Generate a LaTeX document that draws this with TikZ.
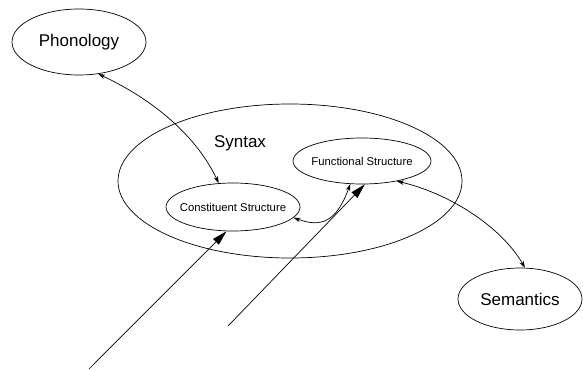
\documentclass[tikz,border=0pt]{standalone}
\usepackage{fontspec}
\setmainfont{Liberation Sans}
\usetikzlibrary{arrows.meta,shapes.geometric}

\begin{document}
\begin{tikzpicture}[x=1pt,y=1pt,
  line width=0.7pt,
  area/.style={draw, ellipse, inner sep=0pt},
  bigtext/.style={font=\fontsize{17}{20}\selectfont},
  smalltext/.style={font=\fontsize{11.3}{13}\selectfont},
  link/.style={{Stealth[length=7pt,width=4.5pt]}-{Stealth[length=7pt,width=4.5pt]}},
  feed/.style={-{Triangle[length=15pt,width=8pt]}}]
\useasboundingbox (0,0) rectangle (583,370);

% modules (names set at the centre so the outline keeps its given size)
\node[area, minimum width=134pt, minimum height=66pt,
      label={[bigtext]center:Phonology}] (phon) at (79,328) {};
\node[area, minimum width=344pt, minimum height=154pt] (syn) at (290,189) {};
\node[bigtext] (synlabel) at (240,227) {Syntax};
\node[area, minimum width=138pt, minimum height=46pt,
      label={[smalltext]center:Functional Structure}] (func) at (362,209) {};
\node[area, minimum width=134pt, minimum height=48pt,
      label={[smalltext]center:Constituent Structure}] (cons) at (233,163) {};
\node[area, minimum width=124pt, minimum height=62pt,
      label={[bigtext]center:Semantics}] (sem) at (520,71) {};

% interfaces between modules
\draw[link] (phon.-59) .. controls +(-25:70) and +(115:45) .. (cons.121);
\draw[link] (cons.-10) .. controls +(-20:30) and +(250:40) .. (func.243);
\draw[link] (func.-30) .. controls +(-13:50) and +(120:50) .. (sem.81);

% incoming projections
\coordinate (inA) at (89,1);
\coordinate (inB) at (228,44);
\draw[feed] (inA) -- (cons.255);
\draw[feed] (inB) -- (func.277);
\end{tikzpicture}
\end{document}
